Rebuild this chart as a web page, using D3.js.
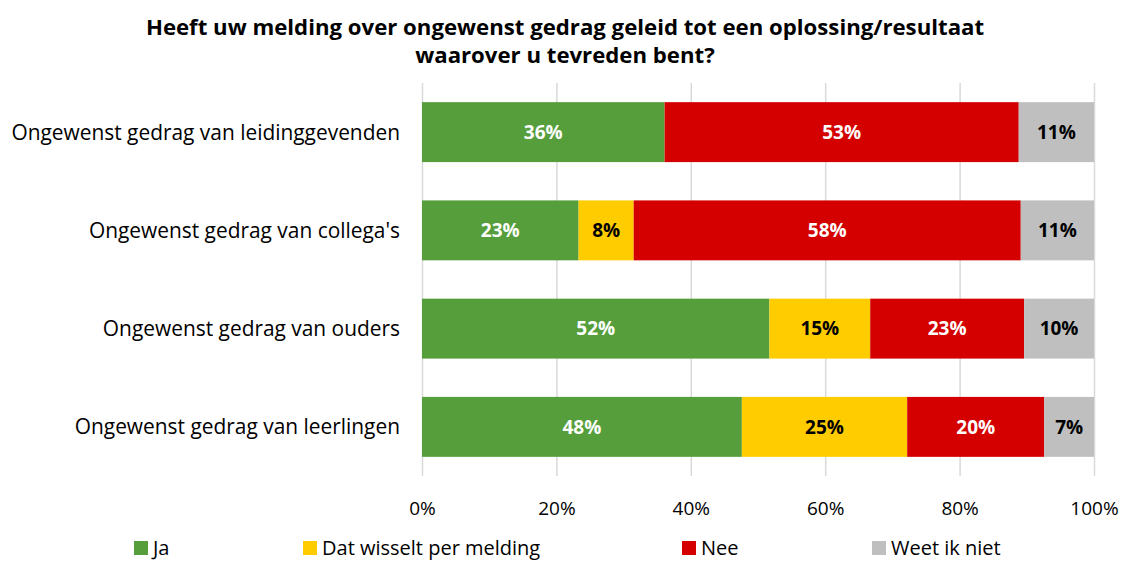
<!DOCTYPE html>
<html>
<head>
<meta charset="utf-8">
<script src="https://cdn.jsdelivr.net/npm/d3@7"></script>
<style>
  body { margin: 0; background: #fff; }
  svg { display: block; font-family: "Open Sans", sans-serif; }
</style>
</head>
<body>
<div id="chart"></div>
<script>
// categories, top to bottom
var categories = [
  "Ongewenst gedrag van leidinggevenden",
  "Ongewenst gedrag van collega's",
  "Ongewenst gedrag van ouders",
  "Ongewenst gedrag van leerlingen",
];

var seriesNames = ["Ja", "Dat wisselt per melding", "Nee", "Weet ik niet"];

// percentages per category
var ja = [36.1, 23.3, 51.7, 47.6];
var wisselt = [0, 8.2, 15.0, 24.6];
var nee = [52.7, 57.6, 22.9, 20.4];
var weetNiet = [11.2, 10.9, 10.4, 7.4];

var xTicks = [0, 20, 40, 60, 80, 100];

var titleLines = [
  "Heeft uw melding over ongewenst gedrag geleid tot een oplossing/resultaat",
  "waarover u tevreden bent?",
];

var colors = ["#559E3B", "#FFCC00", "#D40000", "#BFBFBF"];
var labelColors = ["#fff", "#000", "#fff", "#000"];

var width = 1124,
  height = 561,
  plot = { left: 422, right: 1094, top: 83, bottom: 476 };

var svg = d3
  .select("#chart")
  .append("svg")
  .attr("width", width)
  .attr("height", height);

// title
svg
  .append("text")
  .attr("text-anchor", "middle")
  .attr("font-weight", "bold")
  .attr("font-size", "22.2px")
  .attr("fill", "#000")
  .selectAll("tspan")
  .data(titleLines)
  .join("tspan")
  .attr("x", 565)
  .attr("y", (d, i) => 35 + i * 28)
  .text((d) => d);

var x = d3.scaleLinear().domain([0, 100]).range([plot.left, plot.right]);

var y = d3
  .scaleBand()
  .domain(categories)
  .range([plot.top, plot.bottom])
  .paddingInner(0.39)
  .paddingOuter(0.195);

// gridlines + tick labels
var xAxis = svg
  .append("g")
  .attr("transform", `translate(0, ${plot.bottom})`)
  .call(
    d3
      .axisBottom(x)
      .tickValues(xTicks)
      .tickSize(-(plot.bottom - plot.top))
      .tickFormat((d) => d + "%")
  );
xAxis.select(".domain").remove();
xAxis.selectAll(".tick line").attr("stroke", "#D9D9D9").attr("stroke-width", 1.5);
xAxis
  .selectAll(".tick text")
  .attr("y", 39)
  .attr("dy", 0)
  .attr("font-size", "19px")
  .attr("font-family", "Open Sans, sans-serif")
  .attr("fill", "#000");

// stack the series
var table = categories.map((c, i) => ({
  category: c,
  "Ja": ja[i],
  "Dat wisselt per melding": wisselt[i],
  "Nee": nee[i],
  "Weet ik niet": weetNiet[i],
}));

var stacked = d3.stack().keys(seriesNames)(table);

var layers = svg
  .append("g")
  .selectAll("g")
  .data(stacked)
  .join("g")
  .attr("fill", (d, i) => colors[i]);

layers
  .selectAll("rect")
  .data((d) => d.filter((p) => p[1] - p[0] > 0))
  .join("rect")
  .attr("x", (d) => x(d[0]))
  .attr("y", (d) => y(d.data.category))
  .attr("width", (d) => x(d[1]) - x(d[0]))
  .attr("height", y.bandwidth());

// value labels
stacked.forEach((layer, li) => {
  svg
    .append("g")
    .selectAll("text")
    .data(layer.filter((p) => p[1] - p[0] > 0))
    .join("text")
    .attr("x", (d) => (x(d[0]) + x(d[1])) / 2)
    .attr("y", (d) => y(d.data.category) + y.bandwidth() / 2)
    .attr("dy", "0.36em")
    .attr("text-anchor", "middle")
    .attr("font-weight", "bold")
    .attr("font-size", "19px")
    .attr("fill", labelColors[li])
    .text((d) => Math.round(d[1] - d[0]) + "%");
});

// category labels
svg
  .append("g")
  .selectAll("text")
  .data(categories)
  .join("text")
  .attr("x", 400)
  .attr("y", (d) => y(d) + y.bandwidth() / 2)
  .attr("dy", "0.36em")
  .attr("text-anchor", "end")
  .attr("font-size", "20.9px")
  .attr("fill", "#000")
  .text((d) => d);

// legend
var legendX = [134, 303, 682, 872];
var legend = svg
  .append("g")
  .selectAll("g")
  .data(seriesNames)
  .join("g")
  .attr("transform", (d, i) => `translate(${legendX[i]}, 541)`);

legend
  .append("rect")
  .attr("width", 14)
  .attr("height", 14)
  .attr("fill", (d, i) => colors[i]);

legend
  .append("text")
  .attr("x", 19)
  .attr("y", 14)
  .attr("font-size", "20px")
  .attr("fill", "#000")
  .text((d) => d);
</script>
</body>
</html>
